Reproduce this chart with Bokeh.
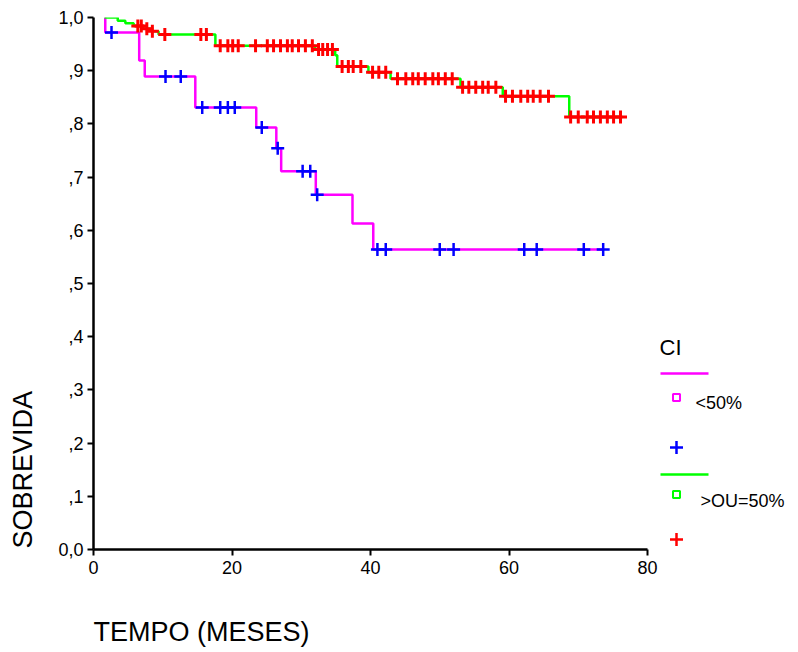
import numpy as np
from bokeh.plotting import figure
from bokeh.models import Range1d, FixedTicker, Label, Title, LinearAxis
from bokeh.layouts import row
from bokeh.embed import file_html
from bokeh.resources import INLINE

FONT = "Liberation Sans"

# ---- Data: Kaplan-Meier curves (time in months, survival) ----
# Group "<50%"
low_times = [1.7, 1.7, 6.6, 7.4, 14.7, 23.5, 26.4, 27.1, 32.1, 37.4, 40.4, 73.6]
low_surv = [1.0, 0.972, 0.919, 0.889, 0.831, 0.793, 0.754, 0.711, 0.667, 0.613, 0.564, 0.564]
low_censored = [2.6, 10.4, 12.6, 15.7, 18.3, 19.4, 20.4, 24.3, 26.6, 30.2, 31.3, 32.3,
                41.0, 42.2, 50.0, 52.0, 62.2, 64.0, 70.8, 73.6]

# Group ">OU=50%"
high_times = [1.6, 3.5, 4.6, 5.8, 7.2, 8.4, 9.4, 17.6, 32.0, 34.9, 35.2, 39.7, 42.9,
              53.0, 59.1, 68.7, 76.4]
high_surv = [1.0, 0.994, 0.989, 0.984, 0.979, 0.974, 0.968, 0.947, 0.940, 0.929, 0.908,
             0.897, 0.885, 0.869, 0.852, 0.813, 0.813]
high_censored = [6.4, 6.9, 7.7, 8.5, 10.3, 15.5, 16.3, 18.3, 19.4, 20.1, 20.9, 23.4, 25.1,
                 26.0, 27.0, 28.0, 28.7, 29.6, 30.6, 31.6, 32.5, 33.1, 33.8, 34.5, 35.9,
                 36.8, 37.5, 38.6, 40.3, 41.2, 42.2, 43.9, 45.1, 46.1, 46.9, 47.9, 49.0,
                 49.8, 50.8, 51.8, 53.3, 54.2, 55.2, 56.2, 57.0, 58.1, 59.5, 60.5, 61.7,
                 62.7, 63.5, 64.5, 65.7, 68.9, 70.0, 71.3, 72.2, 73.2, 74.2, 75.1, 76.1]

x_ticks = [0, 20, 40, 60, 80]
y_ticks = [0.0, 0.1, 0.2, 0.3, 0.4, 0.5, 0.6, 0.7, 0.8, 0.9, 1.0]
y_tick_labels = ["0,0", ",1", ",2", ",3", ",4", ",5", ",6", ",7", ",8", ",9", "1,0"]
x_title = "TEMPO (MESES)"
y_title = "SOBREVIDA"

group_names = ["<50%", ">OU=50%"]
line_colors = ["#FF00FF", "#00FF00"]
censor_colors = ["#0000FF", "#FF0000"]


def level_at(times, surv, t):
    idx = np.searchsorted(np.asarray(times), np.asarray(t), side="right") - 1
    return list(np.asarray(surv)[idx])


# ---- Main figure ----
p = figure(width=659, height=650, x_range=Range1d(0, 80), y_range=Range1d(0, 1),
           output_backend="svg", toolbar_location=None,
           min_border_left=93, min_border_right=12, min_border_top=17, min_border_bottom=101)
p.outline_line_color = None
p.grid.visible = False
p.background_fill_color = "white"

for ax in (p.xaxis, p.yaxis):
    ax.axis_line_width = 2.5
    ax.axis_line_color = "black"
    ax.major_tick_line_width = 2
    ax.major_tick_line_color = "black"
    ax.major_tick_out = 6
    ax.major_tick_in = 0
    ax.minor_tick_line_color = None
    ax.major_label_text_font = FONT
    ax.major_label_text_font_size = "18px"
    ax.major_label_text_color = "black"

p.xaxis.ticker = FixedTicker(ticks=x_ticks)
p.yaxis.ticker = FixedTicker(ticks=y_ticks)
p.yaxis.major_label_overrides = {t: l for t, l in zip(y_ticks, y_tick_labels)}
p.xaxis.major_label_standoff = 5
p.yaxis.major_label_standoff = 4

# blank spacer axes (white tick on white, no labels) that push the axis titles outward
for side, gap, spot in (("below", 38, 50), ("left", 18, 0.65)):
    sp = LinearAxis(ticker=FixedTicker(ticks=[spot]), axis_line_color=None,
                    major_tick_line_color="white", major_tick_line_width=1,
                    minor_tick_line_color=None, major_tick_in=0, major_tick_out=gap,
                    minor_tick_out=0, major_label_text_color=None,
                    major_label_text_font_size="1px", major_label_standoff=0)
    p.add_layout(sp, side)

# axis titles (left-aligned, as in the reference)
p.add_layout(Title(text=x_title, align="left", offset=0, standoff=0,
                   text_font=FONT, text_font_size="27px", text_font_style="normal",
                   text_color="black"), "below")
p.add_layout(Title(text=y_title, align="left", offset=1, standoff=0,
                   text_font=FONT, text_font_size="27px", text_font_style="normal",
                   text_color="black"), "left")

# curves
p.step(x=low_times, y=low_surv, mode="after", line_color=line_colors[0], line_width=2.5)
p.scatter(x=low_censored, y=level_at(low_times, low_surv, low_censored), marker="cross",
          size=13, line_color=censor_colors[0], line_width=2.5)
p.step(x=high_times, y=high_surv, mode="after", line_color=line_colors[1], line_width=2.5)
p.scatter(x=high_censored, y=level_at(high_times, high_surv, high_censored), marker="cross",
          size=13, line_color=censor_colors[1], line_width=3)

# ---- Legend figure (its frame is aligned with the main frame: page y 17..549) ----
lg = figure(width=139, height=650, x_range=Range1d(659, 798), y_range=Range1d(549, 17),
            output_backend="svg", toolbar_location=None,
            x_axis_location=None, y_axis_location=None, min_border=0)
lg.outline_line_color = None
lg.grid.visible = False

lg.add_layout(Label(x=659, y=347, text="CI", text_baseline="middle", text_align="left",
                    text_font=FONT, text_font_size="22px", text_color="black"))

rows_line = [373, 474]
rows_sq = [397, 494]
rows_txt = [402, 500]
txt_x = [695, 700]
rows_cross = [447, 539]
for i in range(2):
    lg.line(x=[660, 708], y=[rows_line[i], rows_line[i]], line_color=line_colors[i], line_width=2.5)
    lg.scatter(x=[676], y=[rows_sq[i]], marker="square", size=7, fill_color="white",
               line_color=line_colors[i], line_width=2)
    lg.scatter(x=[676], y=[rows_cross[i]], marker="cross", size=13,
               line_color=censor_colors[i], line_width=2.5)
    lg.add_layout(Label(x=txt_x[i], y=rows_txt[i], text=group_names[i], text_baseline="middle",
                        text_align="left", text_font=FONT, text_font_size="18px",
                        text_color="black"))

layout = row(p, lg)
open("out.html", "w").write(file_html(layout, INLINE))
